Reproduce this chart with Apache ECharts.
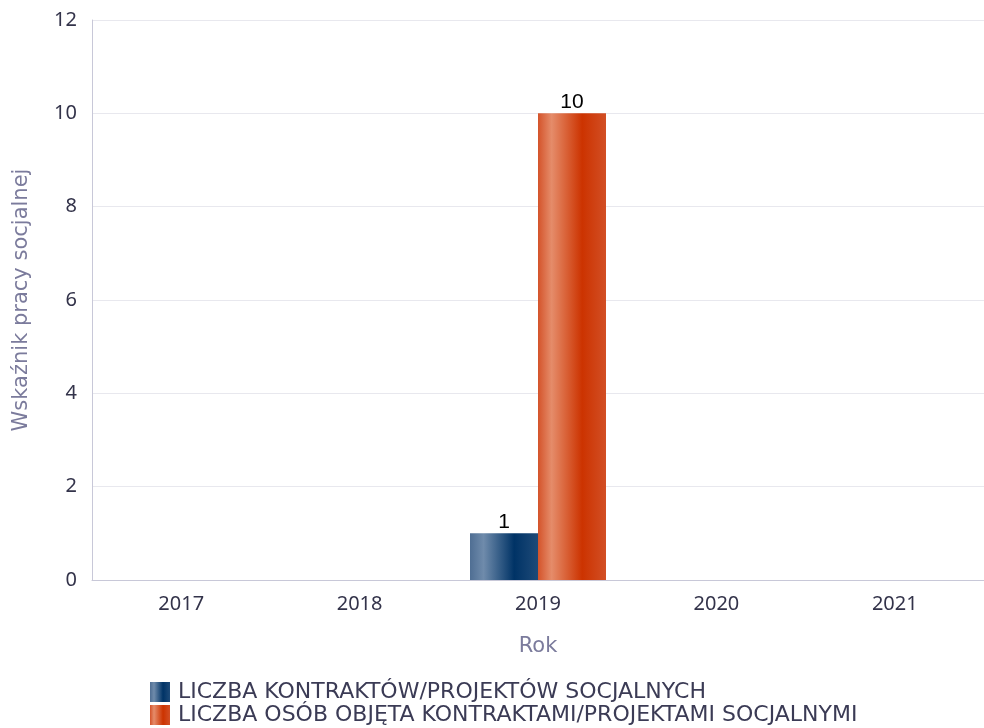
<!DOCTYPE html>
<html>
<head>
<meta charset="utf-8">
<script src="https://cdn.jsdelivr.net/npm/echarts@6/dist/echarts.min.js"></script>
<style>
html, body { margin: 0; padding: 0; background: #fff; }
#chart { width: 984px; height: 728px; }
</style>
</head>
<body>
<div id="chart"></div>
<script>
var years = ['2017', '2018', '2019', '2020', '2021'];
var contractsData = [null, null, 1, null, null];
var personsData = [null, null, 10, null, null];
var seriesNames = ['LICZBA KONTRAKTÓW/PROJEKTÓW SOCJALNYCH', 'LICZBA OSÓB OBJĘTA KONTRAKTAMI/PROJEKTAMI SOCJALNYMI'];

function barGradient(c0, c1, c2, c3) {
	return new echarts.graphic.LinearGradient(0, 0, 1, 0, [
		{ offset: 0, color: c0 },
		{ offset: 0.2, color: c1 },
		{ offset: 0.65, color: c2 },
		{ offset: 1, color: c3 }
	]);
}

// one legend per row so the two items stay stacked
function legendRow(name, top) {
	return {
		left: 150,
		top: top,
		padding: 0,
		icon: 'rect',
		itemWidth: 20,
		itemHeight: 20,
		textStyle: { color: '#3b3b55', fontSize: 22, fontFamily: 'DejaVu Sans', padding: [0, 0, 0, 3] },
		data: [name]
	};
}

var chart = echarts.init(document.getElementById('chart'));
var labelStyle = { show: true, position: 'top', color: '#000', fontSize: 21, distance: 1, fontFamily: 'Liberation Sans' };

chart.setOption({
	animation: false,
	textStyle: { fontFamily: 'Noto Sans' },
	grid: { left: 92, right: -4, top: 20, bottom: 148 },
	legend: [legendRow(seriesNames[0], 681), legendRow(seriesNames[1], 704)],
	xAxis: {
		type: 'category',
		data: years,
		name: 'Rok',
		nameLocation: 'middle',
		nameGap: 56,
		nameTextStyle: { color: '#7b7b9c', fontSize: 21, fontFamily: 'DejaVu Sans' },
		axisLine: { lineStyle: { color: '#c8c8d8' } },
		axisTick: { show: false },
		axisLabel: { color: '#33334a', fontSize: 20, margin: 14 }
	},
	yAxis: {
		type: 'value',
		min: 0,
		max: 12,
		interval: 2,
		name: 'Wskaźnik pracy socjalnej',
		nameLocation: 'middle',
		nameGap: 60,
		nameTextStyle: { color: '#7b7b9c', fontSize: 21, fontFamily: 'DejaVu Sans' },
		axisLine: { show: true, lineStyle: { color: '#c8c8d8' } },
		axisLabel: { color: '#33334a', fontSize: 20, margin: 15 },
		splitLine: { lineStyle: { color: '#e8e8ee' } }
	},
	series: [{
		name: seriesNames[0],
		type: 'bar',
		data: contractsData,
		barWidth: 68,
		barGap: '0%',
		itemStyle: { color: barGradient('#4f6e93', '#6f8bab', '#003366', '#1e4a78') },
		label: labelStyle
	}, {
		name: seriesNames[1],
		type: 'bar',
		data: personsData,
		barWidth: 68,
		barGap: '0%',
		itemStyle: { color: barGradient('#d4532a', '#e58c6a', '#cc3300', '#d24f25') },
		label: labelStyle
	}]
});
</script>
</body>
</html>
